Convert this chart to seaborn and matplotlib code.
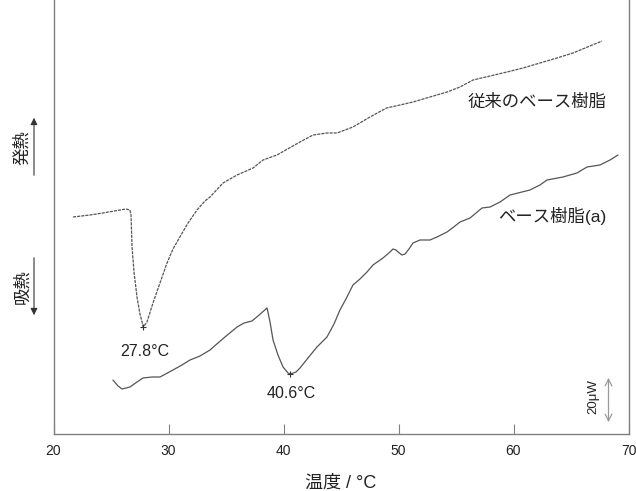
import numpy as np
import pandas as pd
import matplotlib
matplotlib.use("Agg")
import matplotlib.pyplot as plt
import seaborn as sns

# 従来のベース樹脂 (temperature in degC, heat flow in arbitrary units)
conv_temp = [21.70, 23.17, 24.30, 25.78, 26.30, 26.65, 26.74, 26.83, 27.00, 27.26,
             27.52, 27.70, 27.80, 28.13, 28.65, 29.26, 29.87, 30.39, 30.99, 31.70,
             32.48, 33.17, 33.61, 34.74, 35.96, 37.35, 38.22, 39.43, 41.43, 42.57,
             43.78, 44.65, 46.04, 47.52, 48.96, 50.13, 51.26, 52.74, 54.22, 55.35,
             56.48, 57.96, 59.43, 60.83, 62.30, 63.78, 65.17, 66.65, 67.70]
conv_heat = [217, 219, 221, 224, 225, 224, 219, 187, 162, 137,
             120, 112, 107, 112, 131, 151, 171, 185, 197, 211,
             224, 233, 237, 251, 259, 266, 274, 279, 292, 299,
             301, 301, 307, 317, 326, 329, 332, 337, 342, 347,
             354, 358, 362, 366, 371, 376, 381, 388, 393]

# ベース樹脂(a)
base_temp = [25.17, 25.61, 25.96, 26.65, 27.26, 27.78, 28.57, 29.26, 30.39, 31.17,
             31.87, 32.74, 33.61, 34.30, 34.91, 35.96, 36.57, 37.26, 37.78, 38.57,
             38.83, 39.09, 39.52, 39.96, 40.39, 40.60, 41.09, 41.43, 42.13, 42.91,
             43.78, 44.39, 44.91, 45.52, 46.04, 46.65, 47.26, 47.78, 48.65, 49.26,
             49.52, 49.78, 49.96, 50.30, 50.57, 50.91, 51.26, 51.87, 52.74, 53.35,
             54.22, 54.91, 55.35, 56.22, 56.74, 57.26, 57.96, 58.83, 59.70, 61.43,
             62.30, 62.91, 64.30, 65.52, 66.39, 67.52, 68.39, 69.09]
base_heat = [54, 48, 45, 47, 52, 56, 57, 57, 64, 69,
             74, 78, 84, 91, 97, 107, 111, 113, 118, 126,
             112, 94, 79, 67, 61, 60, 62, 66, 76, 87,
             97, 110, 124, 137, 149, 155, 162, 169, 176, 182,
             185, 184, 182, 179, 180, 185, 191, 194, 194, 197,
             202, 208, 212, 216, 221, 226, 227, 232, 239, 244,
             249, 254, 257, 261, 267, 269, 274, 279]

peak_temps = [27.8, 40.6]
x_ticks = [20, 30, 40, 50, 60, 70]
scale_bar = (9, 59)  # 20 uW

sns.set_theme(style="white")
plt.rcParams["font.family"] = ["Liberation Sans", "Noto Sans CJK JP", "DejaVu Sans"]

conv = pd.DataFrame({"temp": conv_temp, "heat": conv_heat})
base = pd.DataFrame({"temp": base_temp, "heat": base_heat})

fig = plt.figure(figsize=(6.36, 4.91), dpi=100)
ax = fig.add_axes([53.5 / 636, 57 / 491, 575 / 636, 434 / 491])

line_col = "#555555"
sns.lineplot(data=conv, x="temp", y="heat", sort=False, ax=ax, color=line_col,
             lw=0.9, linestyle=(0, (2.5, 0.8)))
sns.lineplot(data=base, x="temp", y="heat", sort=False, ax=ax, color=line_col, lw=0.9)

# peak markers and labels
for df, t, dy in [(conv, peak_temps[0], -25), (base, peak_temps[1], -20)]:
    pk = df.loc[(df["temp"] - t).abs().idxmin()]
    ax.plot(pk["temp"], pk["heat"], marker="+", ms=5, mew=0.8, color="#333333")
    ax.text(pk["temp"] + 0.1, pk["heat"] + dy, f"{t:.1f}°C",
            ha="center", va="center", fontsize=11.5, color="#222222")

ax.text(68.1, 332, "従来のベース樹脂", ha="right", va="center", fontsize=12.5, color="#222222")
ax.text(68.1, 218, "ベース樹脂(a)", ha="right", va="center", fontsize=12.5, color="#222222")

# scale bar
ax.annotate("", xy=(68.26, scale_bar[0]), xytext=(68.26, scale_bar[1]),
            arrowprops=dict(arrowstyle="<->", color="#999999", lw=0.9))
ax.text(66.9, 37, "20μW", rotation=90, ha="center", va="center", fontsize=9.5, color="#222222")

ax.set_xlim(20, 70)
ax.set_ylim(0, 434)
ax.set_xticks(x_ticks)
ax.set_yticks([])
ax.tick_params(axis="x", direction="in", length=7, width=0.8, color="#808080",
               pad=7, labelsize=10, labelcolor="#222222", bottom=True)
ax.set_xlabel("温度 / °C", fontsize=13, color="#222222", labelpad=12)
ax.set_ylabel("")
for side in ["left", "bottom", "right"]:
    ax.spines[side].set_color("#808080")
    ax.spines[side].set_linewidth(1.0)
ax.spines["top"].set_visible(False)

# exo / endo indicators
fig.text(22 / 636, 1 - 148 / 491, "発熱", rotation=90, ha="center", va="center", fontsize=12.5, color="#222222")
fig.text(22 / 636, 1 - 287 / 491, "吸熱", rotation=90, ha="center", va="center", fontsize=12.5, color="#222222")
fig.patches.append(matplotlib.patches.FancyArrowPatch(
    (34 / 636, 1 - 178 / 491), (34 / 636, 1 - 115 / 491), transform=fig.transFigure,
    arrowstyle="-|>,head_length=4,head_width=2", color="#333333", lw=0.8))
fig.patches.append(matplotlib.patches.FancyArrowPatch(
    (34 / 636, 1 - 255 / 491), (34 / 636, 1 - 318 / 491), transform=fig.transFigure,
    arrowstyle="-|>,head_length=4,head_width=2", color="#333333", lw=0.8))

fig.savefig("out.png", dpi=100)
